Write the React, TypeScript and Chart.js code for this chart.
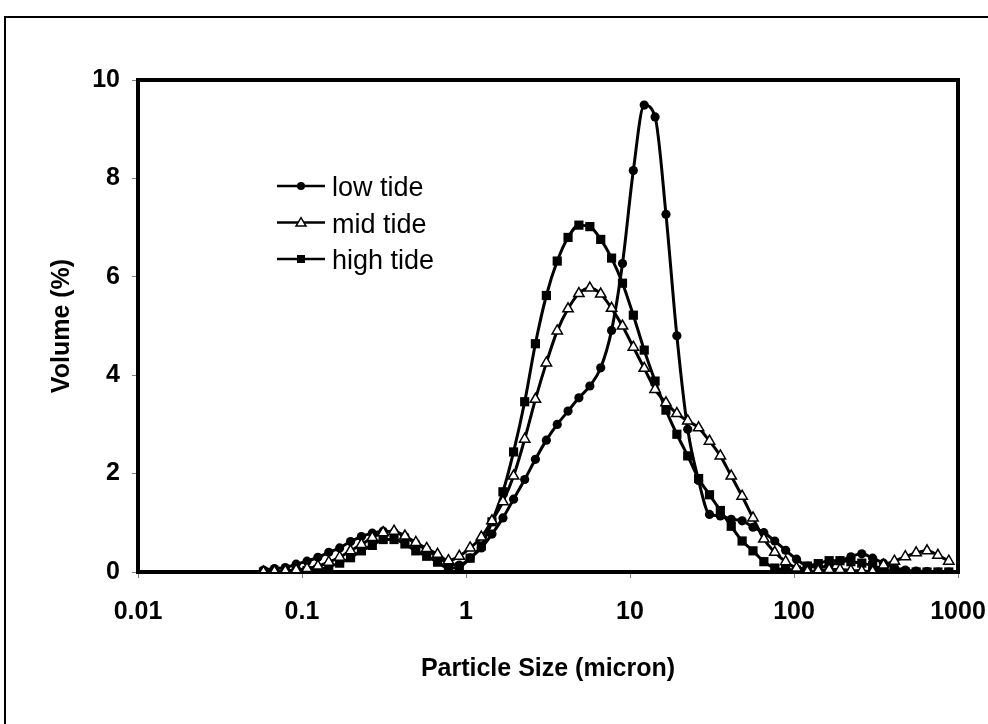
import React, { useEffect, useRef } from "react";
import { Chart, registerables } from "chart.js";

Chart.register(...registerables);

// Particle size classes (micron)
const sizes = [
  0.0582, 0.0679, 0.0791, 0.0921, 0.1073, 0.125, 0.1456, 0.1697, 0.1977, 0.2303,
  0.2683, 0.3125, 0.3641, 0.4242, 0.4942, 0.5757, 0.6707, 0.7813, 0.9103, 1.06,
  1.24, 1.44, 1.68, 1.95, 2.28, 2.65, 3.09, 3.6, 4.19, 4.88,
  5.69, 6.63, 7.72, 9.0, 10.48, 12.21, 14.22, 16.57, 19.31, 22.49,
  26.2, 30.53, 35.56, 41.43, 48.27, 56.23, 65.51, 76.32, 88.91, 103.58,
  120.67, 140.58, 163.77, 190.8, 222.28, 258.95, 301.68, 351.46, 409.45, 477.01,
  555.71, 647.41, 754.23, 878.67,
];

const lowTide = [
  0.04, 0.07, 0.09, 0.16, 0.22, 0.3, 0.4, 0.49, 0.62, 0.72,
  0.79, 0.83, 0.81, 0.72, 0.58, 0.45, 0.31, 0.17, 0.14, 0.29,
  0.49, 0.77, 1.1, 1.48, 1.88, 2.29, 2.68, 3.0, 3.27, 3.54,
  3.78, 4.15, 4.91, 6.27, 8.16, 9.49, 9.25, 7.27, 4.8, 2.9,
  1.86, 1.17, 1.14, 1.07, 1.04, 0.91, 0.8, 0.63, 0.44, 0.26,
  0.12, 0.1, 0.13, 0.22, 0.31, 0.37, 0.28, 0.18, 0.09, 0.04,
  0.02, 0.01, 0.0, 0.0,
];

const midTide = [
  0.0, 0.01, 0.02, 0.04, 0.07, 0.12, 0.2, 0.3, 0.43, 0.56,
  0.7, 0.8, 0.83, 0.73, 0.6, 0.48, 0.36, 0.23, 0.32, 0.49,
  0.71, 1.04, 1.43, 1.95, 2.7, 3.51, 4.25, 4.9, 5.35, 5.66,
  5.77, 5.65, 5.36, 5.0, 4.57, 4.14, 3.71, 3.44, 3.22, 3.07,
  2.93, 2.66, 2.36, 1.95, 1.54, 1.1, 0.67, 0.4, 0.21, 0.08,
  0.01, 0.03, 0.05, 0.05, 0.03, 0.02, 0.01, 0.14, 0.22, 0.31,
  0.39, 0.43, 0.34, 0.22,
];

const highTide = [
  0.0, 0.0, 0.0, 0.01, 0.03, 0.05, 0.11, 0.18, 0.29, 0.43,
  0.54, 0.66, 0.66, 0.57, 0.43, 0.32, 0.2, 0.08, 0.1, 0.28,
  0.53, 1.02, 1.63, 2.44, 3.46, 4.64, 5.62, 6.32, 6.8, 7.05,
  7.02, 6.76, 6.38, 5.87, 5.22, 4.51, 3.88, 3.29, 2.8, 2.36,
  1.9, 1.57, 1.25, 0.93, 0.63, 0.43, 0.21, 0.08, 0.05, 0.04,
  0.12, 0.17, 0.23, 0.23, 0.21, 0.18, 0.13, 0.05, 0.01, 0.0,
  0.0, 0.0, 0.0, 0.0,
];

const seriesLabels = ["low tide", "mid tide", "high tide"];
const xTickValues = [0.01, 0.1, 1, 10, 100, 1000];
const xTickLabels = ["0.01", "0.1", "1", "10", "100", "1000"];
const yMin = 0;
const yMax = 10;
const yStep = 2;
const xTitle = "Particle Size (micron)";
const yTitle = "Volume (%)";

const FONT = "'Liberation Sans', Arial, Helvetica, sans-serif";

function drawMarker(ctx: CanvasRenderingContext2D, style: string, x: number, y: number, r: number) {
  ctx.beginPath();
  if (style === "circle") {
    ctx.arc(x, y, r, 0, Math.PI * 2);
    ctx.fillStyle = "#000";
    ctx.fill();
  } else if (style === "triangle") {
    const h = r * 1.6;
    ctx.moveTo(x, y - h * 0.6);
    ctx.lineTo(x + r, y + h * 0.45);
    ctx.lineTo(x - r, y + h * 0.45);
    ctx.closePath();
    ctx.fillStyle = "#fff";
    ctx.fill();
    ctx.lineWidth = 1.5;
    ctx.strokeStyle = "#000";
    ctx.stroke();
  } else {
    ctx.rect(x - r, y - r, 2 * r, 2 * r);
    ctx.fillStyle = "#000";
    ctx.fill();
  }
}

const framePlugin = {
  id: "frames",
  beforeDraw(chart: any) {
    const ctx = chart.ctx as CanvasRenderingContext2D;
    ctx.save();
    ctx.fillStyle = "#fff";
    ctx.fillRect(0, 0, chart.width, chart.height);
    ctx.strokeStyle = "#000";
    ctx.lineWidth = 2;
    ctx.beginPath();
    ctx.moveTo(5, chart.height + 5);
    ctx.lineTo(5, 17);
    ctx.lineTo(chart.width + 5, 17);
    ctx.stroke();
    ctx.restore();
  },
  beforeDatasetsDraw(chart: any) {
    const { left, top, right, bottom } = chart.chartArea;
    const ctx = chart.ctx as CanvasRenderingContext2D;
    ctx.save();
    ctx.strokeStyle = "#000";
    ctx.lineWidth = 4;
    ctx.strokeRect(left, top, right - left, bottom - top);
    ctx.restore();
  },
  afterDatasetsDraw(chart: any) {
    const ctx = chart.ctx as CanvasRenderingContext2D;
    const { left, top } = chart.chartArea;
    const styles = ["circle", "triangle", "rect"];
    const sizesR = [4, 5, 4];
    ctx.save();
    chart.data.datasets.forEach((ds: any, i: number) => {
      const y = top + 106 + i * 36.5;
      const x0 = left + 139;
      const x1 = left + 187;
      ctx.beginPath();
      ctx.moveTo(x0, y);
      ctx.lineTo(x1, y);
      ctx.lineWidth = 2.5;
      ctx.strokeStyle = "#000";
      ctx.stroke();
      drawMarker(ctx, styles[i], (x0 + x1) / 2, y, sizesR[i]);
      ctx.fillStyle = "#000";
      ctx.font = `27px ${FONT}`;
      ctx.textAlign = "left";
      ctx.textBaseline = "alphabetic";
      ctx.fillText(ds.label, left + 194, y + 10);
    });
    ctx.restore();
  },
};

export default function App() {
  const canvasRef = useRef<HTMLCanvasElement | null>(null);

  useEffect(() => {
    const canvas = canvasRef.current;
    if (!canvas) return;
    const mk = (vals: number[]) => sizes.map((s, i) => ({ x: s, y: vals[i] }));
    const common = {
      borderColor: "#000",
      borderWidth: 3,
      cubicInterpolationMode: "monotone" as const,
      pointBorderColor: "#000",
      showLine: true,
      fill: false,
    };
    const axisFont = { family: FONT, size: 25, weight: "bold" as const };
    const chart = new Chart(canvas, {
      type: "line",
      data: {
        datasets: [
          {
            ...common,
            label: seriesLabels[0],
            data: mk(lowTide),
            pointStyle: "circle",
            pointRadius: 4.6,
            pointBackgroundColor: "#000",
            pointBorderWidth: 0,
            order: 1,
          },
          {
            ...common,
            label: seriesLabels[1],
            data: mk(midTide),
            pointStyle: "triangle",
            pointRadius: 6,
            pointBackgroundColor: "#fff",
            pointBorderWidth: 1.5,
            order: 0,
          },
          {
            ...common,
            label: seriesLabels[2],
            data: mk(highTide),
            pointStyle: "rect",
            pointRadius: 6.5,
            pointBackgroundColor: "#000",
            pointBorderWidth: 0,
            order: 2,
          },
        ],
      },
      options: {
        responsive: false,
        animation: false,
        devicePixelRatio: 1,
        layout: { padding: { top: 80, right: 30, left: 0, bottom: 0 } },
        plugins: {
          legend: { display: false },
          tooltip: { enabled: false },
        },
        scales: {
          x: {
            type: "logarithmic",
            min: xTickValues[0],
            max: xTickValues[xTickValues.length - 1],
            afterBuildTicks: (scale: any) => {
              scale.ticks = xTickValues.map((v) => ({ value: v }));
            },
            afterFit: (scale: any) => {
              scale.height = 152;
              scale.paddingLeft = 0;
              scale.paddingRight = 0;
            },
            ticks: {
              autoSkip: false,
              maxRotation: 0,
              color: "#000",
              padding: 19,
              font: axisFont,
              callback: (v: any) => {
                const idx = xTickValues.indexOf(Number(v));
                return idx >= 0 ? xTickLabels[idx] : "";
              },
            },
            grid: {
              display: true,
              drawOnChartArea: false,
              drawTicks: true,
              tickLength: 6,
              tickColor: "#808080",
              tickWidth: 1,
            },
            border: { display: false },
            title: {
              display: true,
              text: xTitle,
              color: "#000",
              font: axisFont,
              padding: { top: 0, bottom: 40 },
            },
          },
          y: {
            type: "linear",
            min: yMin,
            max: yMax,
            afterFit: (scale: any) => {
              scale.width = 138;
              scale.paddingTop = 0;
              scale.paddingBottom = 0;
            },
            ticks: {
              stepSize: yStep,
              color: "#000",
              padding: 12,
              font: axisFont,
            },
            grid: {
              display: true,
              drawOnChartArea: false,
              drawTicks: true,
              tickLength: 6,
              tickColor: "#808080",
              tickWidth: 1,
            },
            border: { display: false },
            title: {
              display: true,
              text: yTitle,
              color: "#000",
              font: axisFont,
              padding: { top: 47, bottom: 0 },
            },
          },
        },
      },
      plugins: [framePlugin],
    });
    return () => chart.destroy();
  }, []);

  return (
    <div
      style={{
        position: "fixed",
        left: 0,
        top: 0,
        width: 988,
        height: 724,
        background: "#fff",
      }}
    >
      <canvas ref={canvasRef} width={988} height={724} style={{ display: "block" }} />
    </div>
  );
}
